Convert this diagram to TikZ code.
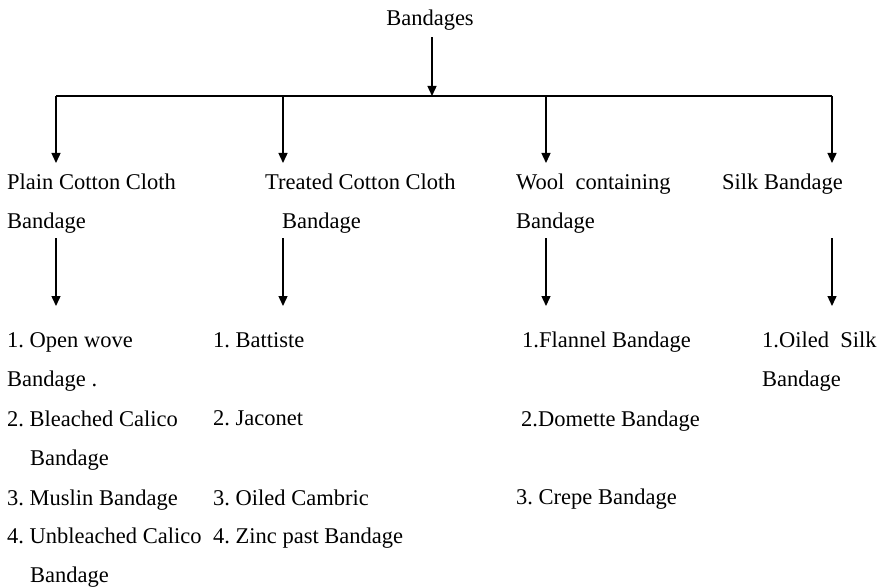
\documentclass[tikz,border=0pt]{standalone}
\usepackage{fontspec}
\setmainfont{Liberation Serif}
\usetikzlibrary{arrows.meta}
\frenchspacing
\begin{document}
\begin{tikzpicture}[x=1pt,y=-1pt,
  lbl/.style={inner sep=0pt, anchor=base west, align=left,
    font=\fontsize{22.5}{39}\selectfont},
  ln/.style={line width=1.4pt},
  arr/.style={ln, -{Triangle[width=9pt,length=10pt]}}]
\useasboundingbox (0,0) rectangle (882,588);

% root and the bus line below it
\node[lbl, anchor=base] (root) at (430,26) {Bandages};
\coordinate (hub) at (432,96);
\coordinate (b1) at (56,96);
\coordinate (b2) at (283,96);
\coordinate (b3) at (546,96);
\coordinate (b4) at (832,96);
\draw[arr] (root.south -| hub) ++(0,6) -- (hub);
\draw[ln] (b1) -- (b4);

% drops to the four kinds
\foreach \i/\x in {1/56,2/283,3/546,4/832}{
  \coordinate (d\i) at (\x,163);
  \coordinate (s\i) at (\x,238);
  \coordinate (e\i) at (\x,306);
}
\foreach \i in {1,...,4}{
  \draw[arr] (b\i) -- (d\i);
  \draw[arr] (s\i) -- (e\i);
}

% kinds of bandage (multi-line nodes sit on their last baseline)
\node[lbl] (plain) at (7,228) {Plain Cotton Cloth\\Bandage};
\node[lbl] (treated) at (265,228) {Treated Cotton Cloth\\\hspace*{17pt}Bandage};
\node[lbl] (wool) at (516,228) {Wool\ \ containing\\Bandage};
\node[lbl] (silk) at (722,189) {Silk Bandage};

% plain cotton cloth
\node[lbl] (p1) at (7,386) {1. Open wove\\Bandage .};
\node[lbl] (p2) at (7,465) {2. Bleached Calico\\\hspace*{23pt}Bandage};
\node[lbl] (p3) at (7,505) {3. Muslin Bandage};
\node[lbl] (p4) at (7,582) {4. Unbleached Calico\\\hspace*{23pt}Bandage};

% treated cotton cloth
\node[lbl] (t1) at (213,347) {1. Battiste};
\node[lbl] (t2) at (213,425) {2. Jaconet};
\node[lbl] (t3) at (213,505) {3. Oiled Cambric};
\node[lbl] (t4) at (213,543) {4. Zinc past Bandage};

% wool containing
\node[lbl] (w1) at (522,347) {1.Flannel Bandage};
\node[lbl] (w2) at (521,426) {2.Domette Bandage};
\node[lbl] (w3) at (516,504) {3. Crepe Bandage};

% silk
\node[lbl] (k1) at (762,386) {1.Oiled\ \ Silk\\Bandage};
\end{tikzpicture}
\end{document}
